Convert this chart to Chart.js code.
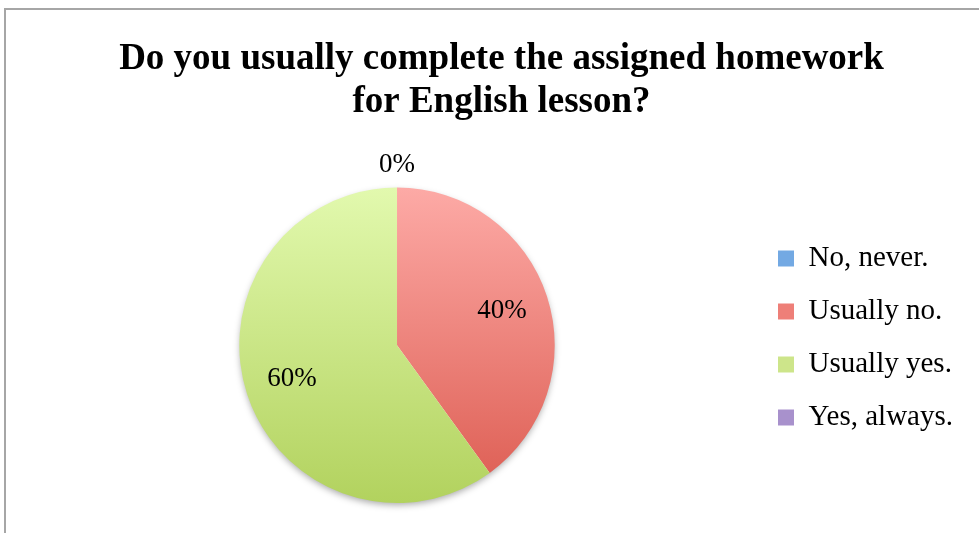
<!DOCTYPE html>
<html>
<head>
<meta charset="utf-8">
<script src="https://cdn.jsdelivr.net/npm/chart.js@4.4.1/dist/chart.umd.min.js"></script>
<style>
  body { margin: 0; background: #fff; }
  canvas { display: block; }
</style>
</head>
<body>
<canvas id="myChart" width="979" height="533"></canvas>
<script>
var titleLines = ['Do you usually complete the assigned homework', 'for English lesson?'];
var answers = ['No, never.', 'Usually no.', 'Usually yes.', 'Yes, always.'];
var percents = [0, 40, 60, 0];

// top / bottom colours of each slice's vertical gradient
var topColors = ['#a3c9f3', '#fdaaa6', '#e2f9ae', '#c6b6e3'];
var bottomColors = ['#4b8bd0', '#dc5b50', '#b2d25e', '#8c72b6'];
var legendColors = ['#73a9e3', '#ee7f78', '#cde58a', '#a891cc'];

var serif = '"Liberation Serif", "Times New Roman", serif';

function sliceFill(context){
  var area = context.chart.chartArea;
  var i = context.dataIndex;
  if (!area) return legendColors[i];
  var cy = (area.top + area.bottom) / 2;
  var r = Math.min(area.right - area.left, area.bottom - area.top) / 2;
  var g = context.chart.ctx.createLinearGradient(0, cy - r, 0, cy + r);
  g.addColorStop(0, topColors[i]);
  g.addColorStop(1, bottomColors[i]);
  return g;
}

var frame = {
  id: 'frame',
  beforeDraw: function(chart){
    var c = chart.ctx;
    c.save();
    c.strokeStyle = '#a6a6a6';
    c.lineWidth = 2;
    c.beginPath();
    c.moveTo(5, chart.height);
    c.lineTo(5, 9);
    c.lineTo(chart.width, 9);
    c.stroke();
    c.restore();
  }
};

var shadow = {
  id: 'shadow',
  beforeDatasetsDraw: function(chart){
    var arc = chart.getDatasetMeta(0).data[0];
    if (!arc) return;
    var c = chart.ctx;
    c.save();
    c.shadowColor = 'rgba(0,0,0,0.35)';
    c.shadowBlur = 7;
    c.shadowOffsetY = 3;
    c.fillStyle = '#ffffff';
    c.beginPath();
    c.arc(arc.x, arc.y, arc.outerRadius - 1, 0, Math.PI * 2);
    c.fill();
    c.restore();
  }
};

var sliceLabels = {
  id: 'sliceLabels',
  afterDatasetsDraw: function(chart){
    var c = chart.ctx;
    var seen = {};
    c.save();
    c.font = '27px ' + serif;
    c.fillStyle = '#000';
    c.textAlign = 'center';
    c.textBaseline = 'middle';
    chart.getDatasetMeta(0).data.forEach(function(arc, i){
      var p = arc.getProps(['x', 'y', 'startAngle', 'endAngle', 'outerRadius'], true);
      var mid = (p.startAngle + p.endAngle) / 2;
      var d = percents[i] > 0 ? p.outerRadius * 0.7 : p.outerRadius + 23;
      var x = p.x + Math.cos(mid) * d;
      var y = p.y + Math.sin(mid) * d;
      var key = Math.round(x) + ',' + Math.round(y);
      if (seen[key]) return;
      seen[key] = true;
      c.fillText(percents[i] + '%', x, y);
    });
    c.restore();
  }
};

var ctx = document.getElementById('myChart');
new Chart(ctx, {
  type: 'pie',
  data: {
    labels: answers,
    datasets: [{
      data: percents,
      backgroundColor: sliceFill,
      borderWidth: 0
    }]
  },
  options: {
    responsive: false,
    animation: false,
    layout: { padding: { left: 40, right: 16, top: 0, bottom: 30 } },
    plugins: {
      tooltip: { enabled: false },
      title: {
        display: true,
        text: titleLines,
        color: '#000',
        font: { family: serif, size: 37, weight: 'bold', lineHeight: 1.17 },
        padding: { top: 38, bottom: 63 }
      },
      legend: {
        position: 'right',
        align: 'start',
        title: {
          display: true,
          text: ' ',
          color: '#000',
          font: { size: 10, lineHeight: 1 },
          padding: { top: 210, bottom: 0 }
        },
        labels: {
          color: '#000',
          font: { family: serif, size: 29 },
          boxWidth: 16,
          boxHeight: 16,
          padding: 24,
          generateLabels: function(chart){
            return answers.map(function(a, i){
              return { text: a, fillStyle: legendColors[i], strokeStyle: legendColors[i], fontColor: '#000', lineWidth: 0, index: i, hidden: false };
            });
          }
        }
      }
    }
  },
  plugins: [frame, shadow, sliceLabels]
});
</script>
</body>
</html>
